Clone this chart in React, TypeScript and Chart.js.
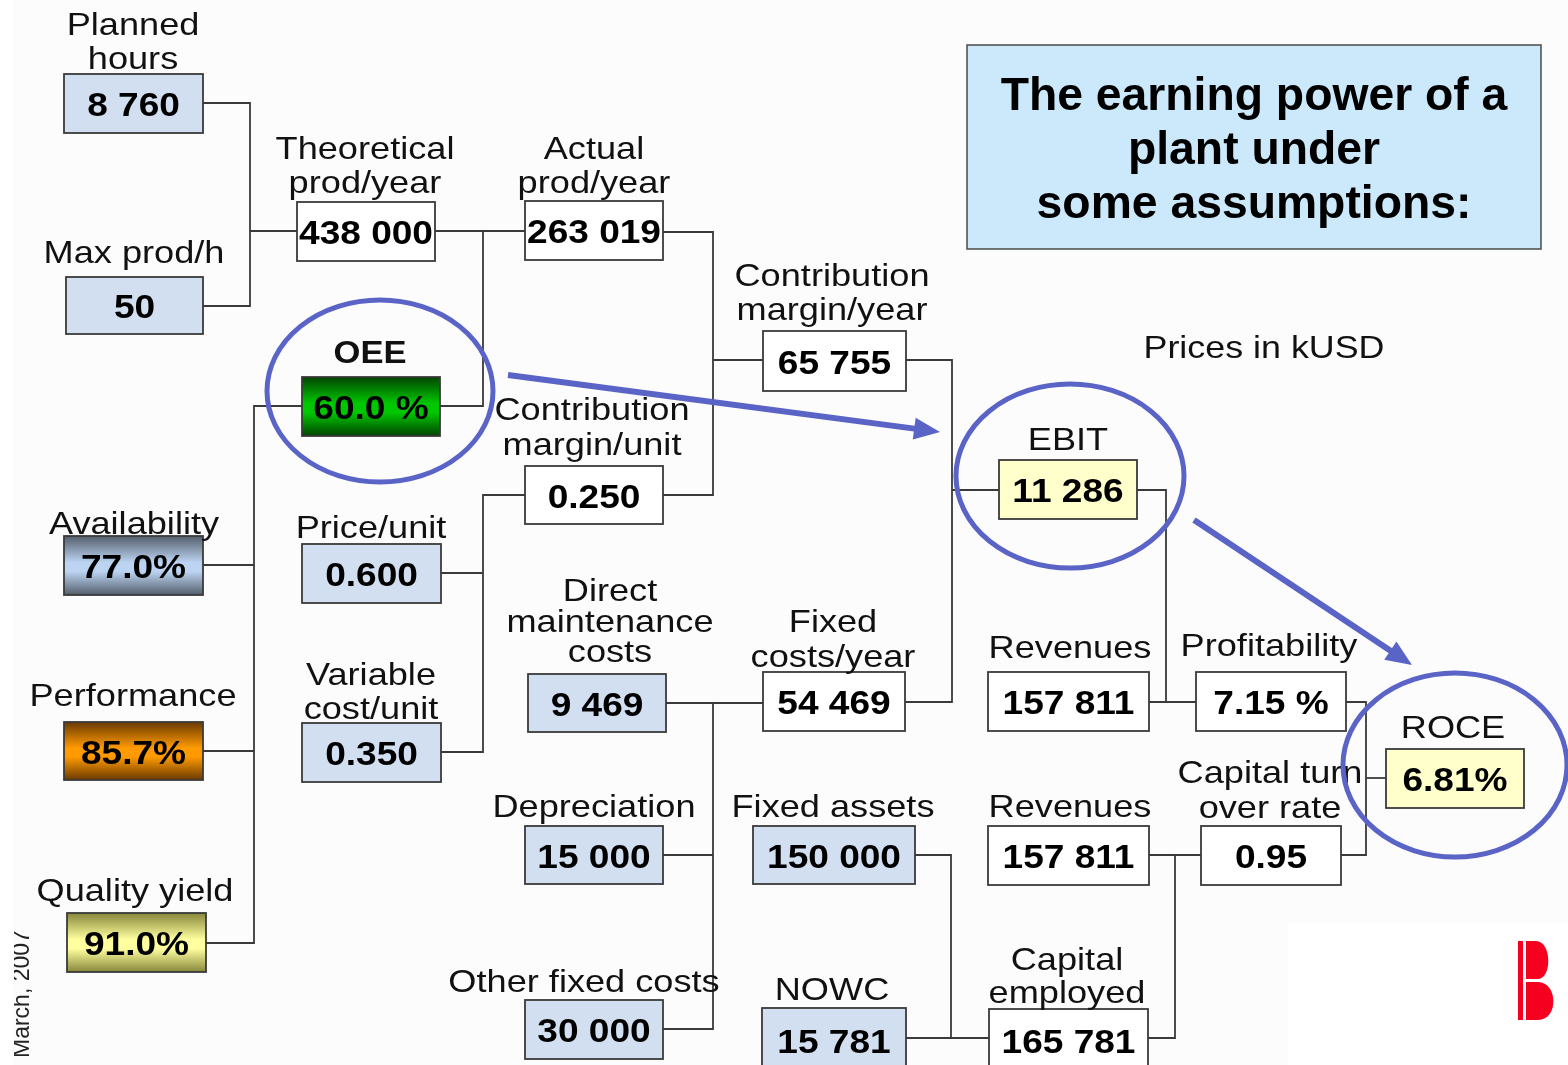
import React, { useEffect, useRef } from "react";
import { Chart, registerables } from "chart.js";

Chart.register(...registerables);

const W = 1568;
const H = 1065;

// ---------------- data ----------------
const nodeLabels: string[][] = [
  ["Planned", "hours"],
  ["Max prod/h"],
  ["Theoretical", "prod/year"],
  ["Actual", "prod/year"],
  ["OEE"],
  ["Availability"],
  ["Performance"],
  ["Quality yield"],
  ["Contribution", "margin/unit"],
  ["Price/unit"],
  ["Variable", "cost/unit"],
  ["Contribution", "margin/year"],
  ["Direct", "maintenance", "costs"],
  ["Fixed", "costs/year"],
  ["Depreciation"],
  ["Other fixed costs"],
  ["Fixed assets"],
  ["NOWC"],
  ["EBIT"],
  ["Revenues"],
  ["Profitability"],
  ["Revenues"],
  ["Capital turn", "over rate"],
  ["Capital", "employed"],
  ["ROCE"],
];

const nodeValues: string[] = [
  "8 760", "50", "438 000", "263 019", "60.0 %", "77.0%", "85.7%", "91.0%",
  "0.250", "0.600", "0.350", "65 755", "9 469", "54 469", "15 000", "30 000",
  "150 000", "15 781", "11 286", "157 811", "7.15 %", "157 811", "0.95",
  "165 781", "6.81%",
];

const nodeKinds: string[] = [
  "input", "input", "calc", "calc", "oee", "avail", "perf", "quality",
  "calc", "input", "input", "calc", "input", "calc", "input", "input",
  "input", "input", "result", "calc", "calc", "calc", "calc", "calc", "result",
];

const titleLines: string[] = ["The earning power of a", "plant under", "some assumptions:"];
const unitNote = "Prices in kUSD";
const dateNote = "March, 2007";

// ---------------- layout (positions / sizes) ----------------
const nodeBoxes: number[][] = [
  [64, 74, 203, 133], [66, 277, 203, 334], [297, 202, 435, 261], [525, 201, 663, 260],
  [302, 377, 440, 436], [64, 536, 203, 595], [64, 722, 203, 780], [67, 913, 206, 972],
  [525, 466, 663, 524], [302, 544, 441, 603], [302, 723, 441, 782], [763, 331, 906, 391],
  [528, 674, 666, 732], [763, 672, 905, 731], [525, 826, 663, 884], [525, 1000, 663, 1059],
  [753, 826, 915, 884], [762, 1008, 906, 1072], [999, 460, 1137, 519], [988, 672, 1149, 731],
  [1196, 672, 1346, 731], [988, 826, 1149, 885], [1201, 826, 1341, 885], [989, 1009, 1148, 1071],
  [1386, 749, 1524, 808],
];

// [centre x, baseline of last line, line spacing]
const labelAnchors: number[][] = [
  [133, 69, 34], [134, 263, 34], [365, 193, 34], [594, 193, 34], [370, 363, 34],
  [134, 534, 34], [133, 706, 34], [135, 901, 34], [592, 455, 35], [371, 538, 34],
  [371, 719, 34], [832, 320, 34], [610, 662, 30.5], [833, 667, 35], [594, 817, 34],
  [584, 992, 34], [833, 817, 34], [832, 1000, 34], [1068, 450, 34], [1070, 658, 34],
  [1269, 656, 34], [1070, 817, 34], [1270, 818, 35], [1067, 1003, 33], [1453, 738, 34],
];

const connectors: number[][][] = [
  [[203, 103], [250, 103], [250, 306], [203, 306]],
  [[250, 231], [297, 231]],
  [[435, 231], [525, 231]],
  [[483, 231], [483, 406], [440, 406]],
  [[663, 232], [713, 232], [713, 495], [663, 495]],
  [[713, 360], [763, 360]],
  [[525, 495], [483, 495], [483, 752], [441, 752]],
  [[441, 573], [483, 573]],
  [[302, 406], [254, 406], [254, 943], [206, 943]],
  [[203, 565], [254, 565]],
  [[203, 751], [254, 751]],
  [[906, 360], [952, 360], [952, 702], [905, 702]],
  [[952, 490], [999, 490]],
  [[666, 703], [763, 703]],
  [[713, 703], [713, 1029], [663, 1029]],
  [[663, 855], [713, 855]],
  [[1137, 490], [1166, 490], [1166, 702]],
  [[1149, 702], [1196, 702]],
  [[1346, 702], [1366, 702], [1366, 855], [1341, 855]],
  [[1366, 778], [1386, 778]],
  [[1149, 855], [1201, 855]],
  [[1175, 855], [1175, 1038], [1148, 1038]],
  [[915, 855], [951, 855], [951, 1038]],
  [[906, 1038], [989, 1038]],
];

const highlightEllipses: number[][] = [
  [380, 391, 113, 91],
  [1070, 476, 114, 92],
  [1455, 765, 112, 92],
];

const highlightArrows: number[][][] = [
  [[508, 375], [940, 432]],
  [[1194, 520], [1412, 665]],
];

const titleBox = [967, 45, 1541, 249];
const titleAnchor = [1254, 110, 54];
const unitAnchor = [1264, 358];

// ---------------- styles ----------------
const FONT = '"Liberation Sans", Arial, sans-serif';
const gradients: Record<string, string[]> = {
  oee: ["#034503", "#00c800", "#034503"],
  avail: ["#535e6b", "#bcd4f2", "#535e6b"],
  perf: ["#6a3a00", "#ff9a00", "#6a3a00"],
  quality: ["#87873a", "#ffffa0", "#87873a"],
};
const flatFills: Record<string, string> = {
  input: "#d2dff0",
  calc: "#ffffff",
  result: "#ffffcc",
};

function scaledText(ctx: CanvasRenderingContext2D, text: string, x: number, y: number, font: string, sx: number, color = "#000") {
  ctx.save();
  ctx.translate(x, y);
  ctx.scale(sx, 1);
  ctx.font = font;
  ctx.fillStyle = color;
  ctx.textAlign = "center";
  ctx.textBaseline = "alphabetic";
  ctx.fillText(text, 0, 0);
  ctx.restore();
}

const diagramPlugin = {
  id: "diagram",
  beforeDraw(chart: any) {
    const ctx: CanvasRenderingContext2D = chart.ctx;
    const xs = chart.scales.x;
    const ys = chart.scales.y;
    const X = (v: number) => xs.getPixelForValue(v);
    const Y = (v: number) => ys.getPixelForValue(v);
    ctx.save();
    ctx.fillStyle = "#fcfcfc";
    ctx.fillRect(X(0), Y(0), X(W) - X(0), Y(H) - Y(0));
    ctx.fillStyle = "#ffffff";
    ctx.fillRect(X(0), Y(0), X(13) - X(0), Y(H) - Y(0));
    ctx.fillRect(X(1288), Y(923), X(W) - X(1288), Y(H) - Y(923));
    ctx.restore();
  },
  afterDatasetsDraw(chart: any) {
    const ctx: CanvasRenderingContext2D = chart.ctx;
    const xs = chart.scales.x;
    const ys = chart.scales.y;
    const X = (v: number) => xs.getPixelForValue(v);
    const Y = (v: number) => ys.getPixelForValue(v);
    ctx.save();

    // connectors
    ctx.strokeStyle = "#3a3a3a";
    ctx.lineWidth = 1.8;
    ctx.lineJoin = "miter";
    connectors.forEach((pts) => {
      ctx.beginPath();
      pts.forEach((p, i) => (i === 0 ? ctx.moveTo(X(p[0]), Y(p[1])) : ctx.lineTo(X(p[0]), Y(p[1]))));
      ctx.stroke();
    });

    // title box
    {
      const [x1, y1, x2, y2] = titleBox;
      ctx.fillStyle = "#cce9fb";
      ctx.fillRect(X(x1), Y(y1), X(x2) - X(x1), Y(y2) - Y(y1));
      ctx.strokeStyle = "#4a4a4a";
      ctx.lineWidth = 1.5;
      ctx.strokeRect(X(x1), Y(y1), X(x2) - X(x1), Y(y2) - Y(y1));
      titleLines.forEach((t, i) => {
        scaledText(ctx, t, X(titleAnchor[0]), Y(titleAnchor[1] + i * titleAnchor[2]), `bold 47px ${FONT}`, 0.985);
      });
    }
    scaledText(ctx, unitNote, X(unitAnchor[0]), Y(unitAnchor[1]), `32px ${FONT}`, 1.12, "#111");

    // boxes
    nodeBoxes.forEach((b, i) => {
      const [x1, y1, x2, y2] = b;
      const px1 = X(x1), py1 = Y(y1), pw = X(x2) - X(x1), ph = Y(y2) - Y(y1);
      const kind = nodeKinds[i];
      if (gradients[kind]) {
        const g = ctx.createLinearGradient(0, py1, 0, py1 + ph);
        const c = gradients[kind];
        g.addColorStop(0, c[0]);
        g.addColorStop(0.45, c[1]);
        g.addColorStop(0.6, c[1]);
        g.addColorStop(1, c[2]);
        ctx.fillStyle = g;
      } else {
        ctx.fillStyle = flatFills[kind];
      }
      ctx.fillRect(px1, py1, pw, ph);
      ctx.strokeStyle = "#3a3a3a";
      ctx.lineWidth = 1.8;
      ctx.strokeRect(px1, py1, pw, ph);

      // value
      const cx = (x1 + x2) / 2;
      const cy = (y1 + y2) / 2;
      scaledText(ctx, nodeValues[i], X(cx), Y(cy + 12.5), `bold 34px ${FONT}`, 1.09);

      // label
      const [lx, lb, ls] = labelAnchors[i];
      const lines = nodeLabels[i];
      const bold = kind === "oee";
      lines.forEach((t, k) => {
        const yy = lb - (lines.length - 1 - k) * ls;
        scaledText(ctx, t, X(lx), Y(yy), bold ? `bold 32px ${FONT}` : `32px ${FONT}`, bold ? 1.08 : 1.13, "#111");
      });
    });

    // date note (rotated, clipped on the left)
    ctx.save();
    ctx.beginPath();
    ctx.rect(X(14), Y(0), X(W) - X(14), Y(H) - Y(0));
    ctx.clip();
    ctx.translate(X(29), Y(1058));
    ctx.rotate(-Math.PI / 2);
    ctx.font = `23px ${FONT}`;
    ctx.fillStyle = "#222";
    ctx.textAlign = "left";
    ctx.textBaseline = "alphabetic";
    ctx.fillText(dateNote, 0, 0);
    ctx.restore();

    // logo
    ctx.fillStyle = "#f5001e";
    ctx.fillRect(X(1518), Y(941), X(1523) - X(1518), Y(1020) - Y(941));
    ctx.beginPath();
    ctx.moveTo(X(1526), Y(941));
    ctx.lineTo(X(1536), Y(941));
    ctx.bezierCurveTo(X(1552), Y(941), X(1552), Y(979), X(1538), Y(979));
    ctx.lineTo(X(1526), Y(979));
    ctx.closePath();
    ctx.fill();
    ctx.beginPath();
    ctx.moveTo(X(1526), Y(982));
    ctx.lineTo(X(1538), Y(982));
    ctx.bezierCurveTo(X(1558), Y(982), X(1559), Y(1020), X(1538), Y(1020));
    ctx.lineTo(X(1526), Y(1020));
    ctx.closePath();
    ctx.fill();

    // ellipses
    ctx.strokeStyle = "#5a63c6";
    ctx.lineWidth = 5;
    highlightEllipses.forEach((e) => {
      ctx.beginPath();
      ctx.ellipse(X(e[0]), Y(e[1]), X(e[0] + e[2]) - X(e[0]), Y(e[1] + e[3]) - Y(e[1]), 0, 0, Math.PI * 2);
      ctx.stroke();
    });

    // arrows
    highlightArrows.forEach((a) => {
      const x0 = X(a[0][0]), y0 = Y(a[0][1]), x1 = X(a[1][0]), y1 = Y(a[1][1]);
      const ang = Math.atan2(y1 - y0, x1 - x0);
      const hl = 26, hw = 11;
      const bx = x1 - hl * Math.cos(ang), by = y1 - hl * Math.sin(ang);
      ctx.strokeStyle = "#5a63c6";
      ctx.lineWidth = 6;
      ctx.lineCap = "butt";
      ctx.beginPath();
      ctx.moveTo(x0, y0);
      ctx.lineTo(bx + 2 * Math.cos(ang), by + 2 * Math.sin(ang));
      ctx.stroke();
      ctx.fillStyle = "#5a63c6";
      ctx.beginPath();
      ctx.moveTo(x1, y1);
      ctx.lineTo(bx + hw * Math.sin(ang), by - hw * Math.cos(ang));
      ctx.lineTo(bx - hw * Math.sin(ang), by + hw * Math.cos(ang));
      ctx.closePath();
      ctx.fill();
    });

    ctx.restore();
  },
};

export default function App() {
  const ref = useRef<HTMLCanvasElement>(null);
  useEffect(() => {
    document.body.style.margin = "0";
    const canvas = ref.current;
    if (!canvas) return;
    const chart = new Chart(canvas, {
      type: "scatter",
      data: {
        datasets: [
          {
            label: "nodes",
            data: nodeBoxes.map((b) => ({ x: (b[0] + b[2]) / 2, y: (b[1] + b[3]) / 2 })),
            pointRadius: 0,
            pointHoverRadius: 0,
          },
        ],
      },
      options: {
        responsive: false,
        maintainAspectRatio: false,
        animation: false,
        devicePixelRatio: 1,
        events: [],
        layout: { padding: 0 },
        plugins: { legend: { display: false }, tooltip: { enabled: false }, title: { display: false } },
        scales: {
          x: { type: "linear", min: 0, max: W, display: false },
          y: { type: "linear", min: 0, max: H, reverse: true, display: false },
        },
      },
      plugins: [diagramPlugin as any],
    });
    return () => chart.destroy();
  }, []);
  return (
    <div style={{ position: "absolute", left: 0, top: 0, width: W, height: H }}>
      <canvas ref={ref} width={W} height={H} style={{ display: "block", width: W, height: H }} />
    </div>
  );
}
